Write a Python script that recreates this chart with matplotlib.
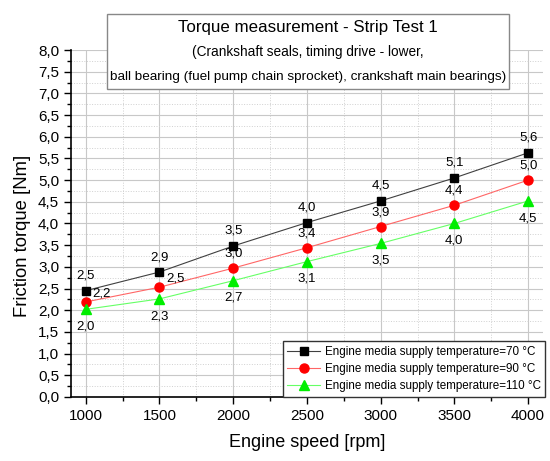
import matplotlib
matplotlib.use("Agg")
import matplotlib.pyplot as plt
from matplotlib.ticker import MultipleLocator, FuncFormatter
from matplotlib.patches import Rectangle

plt.rcParams['font.family'] = ['Liberation Sans', 'DejaVu Sans']

speed = [1000, 1500, 2000, 2500, 3000, 3500, 4000]
t70 = [2.45, 2.88, 3.48, 4.02, 4.52, 5.05, 5.63]
t90 = [2.19, 2.53, 2.97, 3.44, 3.93, 4.42, 5.00]
t110 = [2.02, 2.26, 2.68, 3.12, 3.54, 4.00, 4.52]
lab70 = ["2,5", "2,9", "3,5", "4,0", "4,5", "5,1", "5,6"]
lab90 = ["2,2", "2,5", "3,0", "3,4", "3,9", "4,4", "5,0"]
lab110 = ["2,0", "2,3", "2,7", "3,1", "3,5", "4,0", "4,5"]
names = ["Engine media supply temperature=70 °C",
         "Engine media supply temperature=90 °C",
         "Engine media supply temperature=110 °C"]
title = "Torque measurement - Strip Test 1"
subtitle1 = "(Crankshaft seals, timing drive - lower,"
subtitle2 = "ball bearing (fuel pump chain sprocket), crankshaft main bearings)"

fig = plt.figure(figsize=(5.5, 4.61), dpi=100)
ax = fig.add_axes([0.129, 0.139, 0.858, 0.7525])

ax.plot(speed, t70, color='#404040', lw=0.8, marker='s', ms=5.5, mfc='black', mec='black', label=names[0], zorder=3)
ax.plot(speed, t90, color='#ff6666', lw=0.8, marker='o', ms=6.5, mfc='red', mec='red', label=names[1], zorder=3)
ax.plot(speed, t110, color='#66ff66', lw=0.8, marker='^', ms=7, mfc='#00ee00', mec='#00ee00', label=names[2], zorder=3)

fs = 9.5
for i, x in enumerate(speed):
    ax.annotate(lab70[i], (x, t70[i]), xytext=(0, 6.5), textcoords='offset points',
                ha='center', va='bottom', fontsize=fs)
    if i < 2:
        ax.annotate(lab90[i], (x, t90[i]), xytext=(5, 2), textcoords='offset points',
                    ha='left', va='bottom', fontsize=fs)
    else:
        ax.annotate(lab90[i], (x, t90[i]), xytext=(0, 6), textcoords='offset points',
                    ha='center', va='bottom', fontsize=fs)
    ax.annotate(lab110[i], (x, t110[i]), xytext=(0, -8), textcoords='offset points',
                ha='center', va='top', fontsize=fs)

ax.set_xlim(900, 4100)
ax.set_ylim(0, 8)
ax.xaxis.set_major_locator(MultipleLocator(500))
ax.xaxis.set_minor_locator(MultipleLocator(250))
ax.yaxis.set_major_locator(MultipleLocator(0.5))
ax.yaxis.set_minor_locator(MultipleLocator(0.25))
ax.yaxis.set_major_formatter(FuncFormatter(lambda v, p: f"{v:.1f}".replace('.', ',')))
ax.tick_params(axis='both', which='major', direction='out', length=5, width=1, labelsize=11)
ax.tick_params(axis='both', which='minor', direction='out', length=3, width=1)
ax.grid(which='major', color='#c8c8c8', lw=0.8)
ax.grid(which='minor', color='#d0d0d0', lw=0.7, ls=':')
ax.set_axisbelow(True)
for s in ['top', 'right']:
    ax.spines[s].set_visible(False)
ax.spines['left'].set_linewidth(1.2)
ax.spines['bottom'].set_linewidth(1.2)

ax.set_xlabel("Engine speed [rpm]", fontsize=13, labelpad=8)
ax.set_ylabel("Friction torque [Nm]", fontsize=13.3)
ax.yaxis.set_label_coords(-0.085, 0.464)

leg = ax.legend(loc='lower right', bbox_to_anchor=(1.005, 0.0), borderaxespad=0,
                fontsize=8.4, fancybox=False, edgecolor='#333333', framealpha=1,
                handlelength=2.8, handletextpad=0.4, labelspacing=0.45, borderpad=0.4)
leg.get_frame().set_linewidth(1.0)

rect = Rectangle((0.1945, 0.807), 0.7305, 0.163, transform=fig.transFigure,
                 facecolor='white', edgecolor='#888888', lw=1.0, zorder=10)
fig.patches.append(rect)
cx = 0.1945 + 0.7305 / 2
fig.text(cx, 0.941, title, ha='center', va='center', fontsize=12.2, zorder=11)
fig.text(cx, 0.887, subtitle1, ha='center', va='center', fontsize=9.8, zorder=11)
fig.text(cx, 0.833, subtitle2, ha='center', va='center', fontsize=9.7, zorder=11)

fig.savefig("out.png", dpi=100)
